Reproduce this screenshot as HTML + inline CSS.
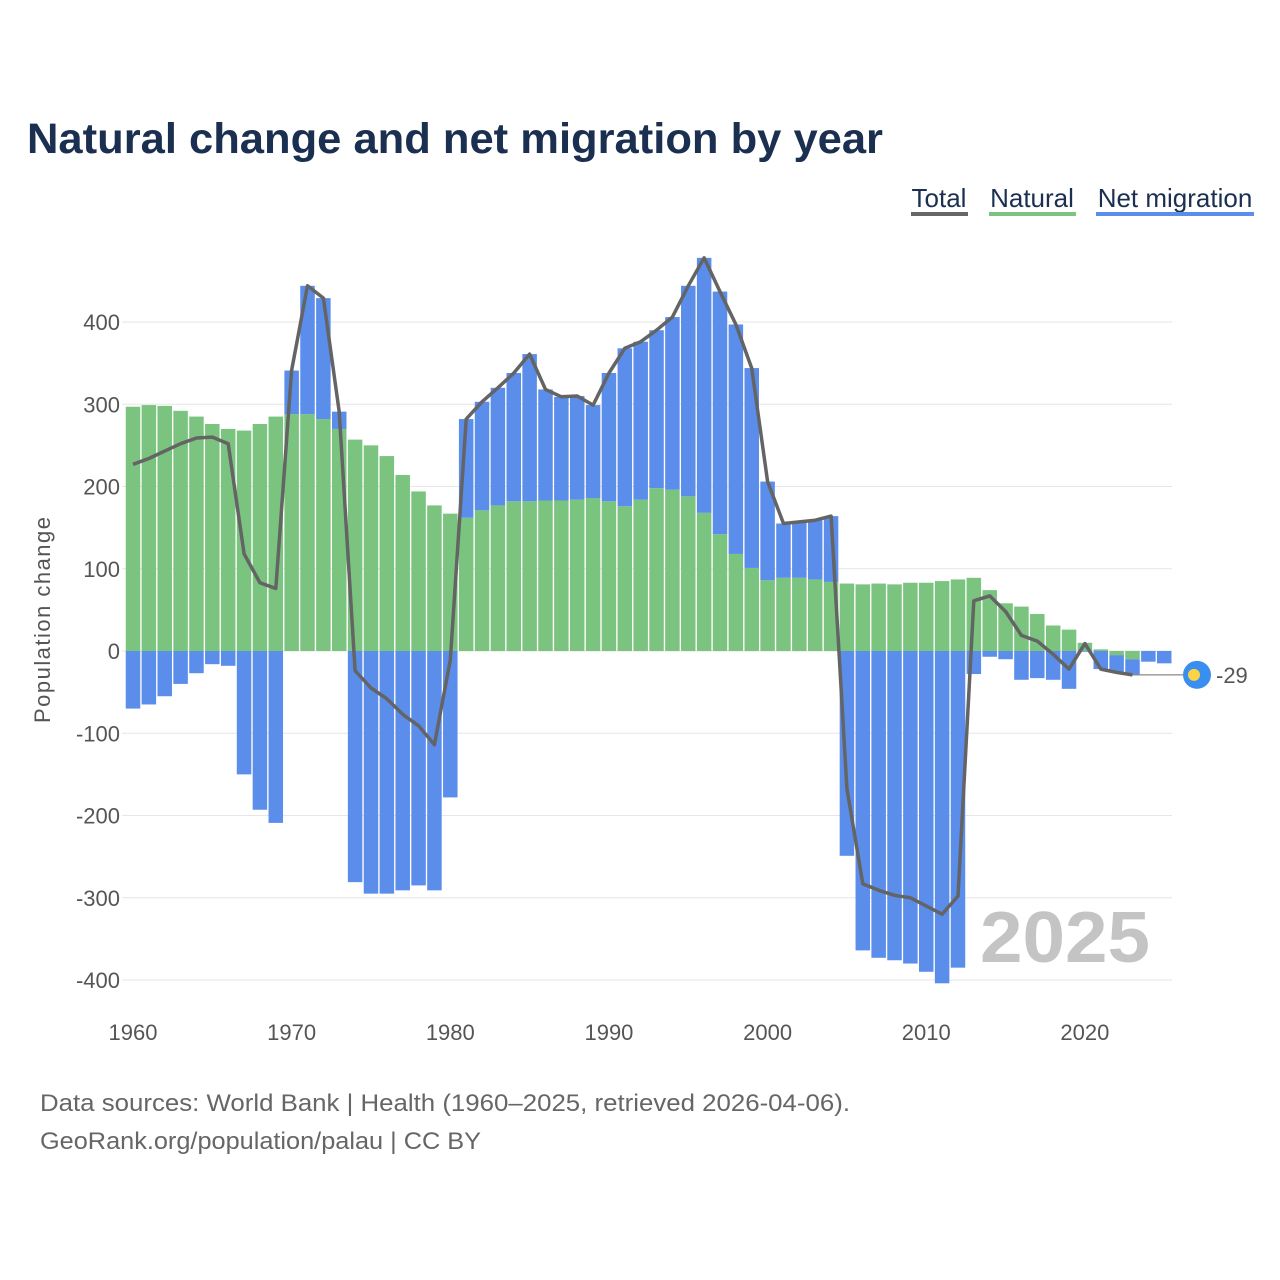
<!DOCTYPE html>
<html><head><meta charset="utf-8"><style>
body{margin:0;background:#fff;}
svg{display:block;font-family:"Liberation Sans",sans-serif;}
</style></head><body>
<svg id="chart" width="1280" height="1280" viewBox="0 0 1280 1280">
<text x="27" y="153" font-size="43" font-weight="bold" fill="#1b2f50" textLength="856" lengthAdjust="spacingAndGlyphs">Natural change and net migration by year</text>
<g>
<g><text x="939" y="207" font-size="26" fill="#1b2f50" text-anchor="middle">Total</text><rect x="911" y="212" width="57" height="4" fill="#666"/></g>
<g><text x="1032" y="207" font-size="26" fill="#1b2f50" text-anchor="middle">Natural</text><rect x="989" y="212" width="87" height="4" fill="#7bc47f"/></g>
<g><text x="1175" y="207" font-size="26" fill="#1b2f50" text-anchor="middle">Net migration</text><rect x="1096" y="212" width="158" height="4" fill="#5b8deb"/></g>
</g>
<g id="grid"></g>
<g id="bars"></g>
<g id="line"></g>
<g id="yticks"></g>
<g id="xticks"></g>
<text transform="translate(50,620) rotate(-90)" font-size="22" fill="#555" text-anchor="middle" textLength="206">Population change</text>
<text x="980" y="962" font-size="72" font-weight="bold" fill="#c4c4c4" textLength="170" lengthAdjust="spacingAndGlyphs">2025</text>
<text x="40" y="1111" font-size="24" fill="#666" textLength="810" lengthAdjust="spacingAndGlyphs">Data sources: World Bank | Health (1960–2025, retrieved 2026-04-06).</text>
<text x="40" y="1149" font-size="24" fill="#666" textLength="441" lengthAdjust="spacingAndGlyphs">GeoRank.org/population/palau | CC BY</text>
</svg>
<script>
const years = [];
for (let y = 1960; y <= 2025; y++) years.push(y);
const natural = [297,299,298,292,285,276,270,268,276,285,288,288,282,270,257,250,237,214,194,177,167,162,171,177,182,182,183,183,184,186,182,176,184,198,196,188,168,142,118,101,86,89,89,87,84,82,81,82,81,83,83,85,87,89,74,58,54,45,31,26,10,2,-5,-10,0,0];
const migration = [-70,-65,-55,-40,-27,-16,-18,-150,-193,-209,53,156,147,21,-281,-295,-295,-291,-285,-291,-178,120,132,143,156,179,135,126,126,113,156,192,192,192,210,256,310,295,279,243,120,66,68,72,80,-249,-364,-373,-376,-380,-390,-404,-385,-28,-7,-10,-35,-33,-35,-46,-1,-22,-20,-19,-13,-15];
const total = [227,234,243,252,259,260,252,118,83,76,341,444,429,291,-24,-45,-58,-77,-91,-114,-11,282,303,320,338,361,318,309,310,299,338,368,376,390,406,444,478,437,397,344,206,155,157,159,164,-167,-283,-291,-297,-300,-310,-320,-298,61,67,48,19,12,-4,-22,9,-22,-26,-29];
const yTicks = [-400,-300,-200,-100,0,100,200,300,400];
const xTicks = [1960,1970,1980,1990,2000,2010,2020];
const lastLabel = "-29";

const NS = "http://www.w3.org/2000/svg";
const X = yr => 133 + (yr - 1960) * 15.865;
const Y = v => 651 - v * 0.8225;
function mk(tag, attrs, parent){const e=document.createElementNS(NS,tag);for(const k in attrs)e.setAttribute(k,attrs[k]);parent.appendChild(e);return e;}
const grid=document.getElementById('grid'), bars=document.getElementById('bars'), line=document.getElementById('line'), yt=document.getElementById('yticks'), xt=document.getElementById('xticks');
yTicks.forEach(t=>{
  const g=mk('line',{x1:122,x2:1172,y1:Y(t),y2:Y(t),stroke:'#e6e6e6','stroke-width':1},grid);
  
  
  const tx=mk('text',{x:120,y:Y(t)+8,'font-size':22,fill:'#555','text-anchor':'end'},yt);
  tx.textContent=t;
  
  
});
xTicks.forEach(t=>{
  const tx=mk('text',{x:X(t),y:1040,'font-size':22,fill:'#555','text-anchor':'middle'},xt);
  tx.textContent=t;
  
  
});
const bw=14.5;
years.forEach((yr,i)=>{
  const n=natural[i], m=migration[i];
  const x=X(yr)-bw/2;
  const nr=mk('rect',{x:x,y:Math.min(Y(0),Y(n)),width:bw,height:Math.abs(Y(n)-Y(0)),fill:'#7bc47f'},bars);
  
  
  let base=0;
  if ((m>0&&n>0)||(m<0&&n<0)) base=n;
  const mr=mk('rect',{x:x,y:Math.min(Y(base),Y(base+m)),width:bw,height:Math.abs(Y(base+m)-Y(base)),fill:'#5b8deb'},bars);
  
  
});
const pts=total.map((v,i)=>X(years[i]).toFixed(1)+','+Y(v).toFixed(1)).join(' ');
const pl=mk('polyline',{points:pts,fill:'none',stroke:'#646464','stroke-width':3.5,'stroke-linejoin':'round'},line);


const li=total.length-1, lx=X(years[li]), ly=Y(total[li]);
const cl=mk('line',{x1:lx,y1:ly,x2:1185,y2:ly,stroke:'#888','stroke-width':1.2},line);


const c1=mk('circle',{cx:1197,cy:ly,r:14,fill:'#3a8ef0'},line);


const c2=mk('circle',{cx:1194,cy:ly,r:6,fill:'#fcd444'},line);


const lt=mk('text',{x:1216,y:ly+8,'font-size':22,fill:'#555'},line);
lt.textContent=lastLabel;


</script>
</body></html>
